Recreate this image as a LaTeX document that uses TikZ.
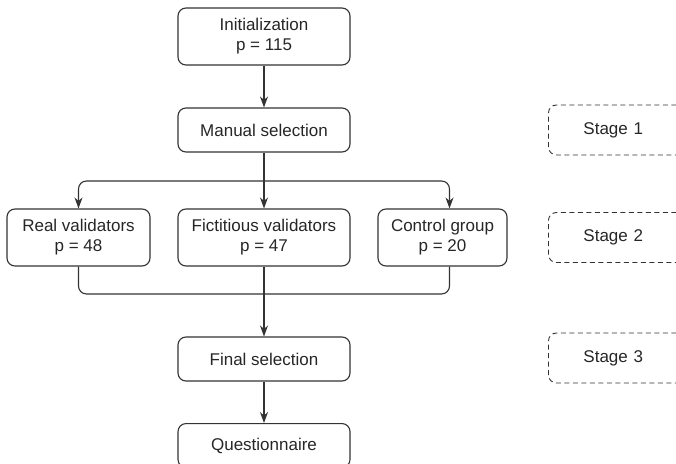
\documentclass[tikz,border=0pt]{standalone}
\usepackage{fontspec}
\setmainfont{Liberation Sans}
\usetikzlibrary{arrows.meta,positioning}

\begin{document}
\begin{tikzpicture}[x=1pt, y=-1pt, >={Stealth[length=11pt,width=8pt]},
    line width=1.1pt,
    every node/.style={font=\fontsize{17}{20}\selectfont, text=black!85},
    box/.style={draw=black!80, rounded corners=8pt, align=center, inner sep=0pt},
    stagebox/.style={draw=black!80, dashed, dash pattern=on 5pt off 3.5pt,
      line width=0.9pt, rounded corners=8pt, align=left, text width=100pt,
      inner xsep=35pt, minimum height=50pt, anchor=west}]
  \clip (0,0) rectangle (676,463);

  % main column
  \node[box, minimum width=172pt, minimum height=57pt] (init) at (264,36.5) {Initialization\\p = 115};
  \node[box, minimum width=172pt, minimum height=44pt] (manual) at (264,130) {Manual selection};

  % three groups
  \node[box, minimum width=143pt, minimum height=57pt] (real) at (78.5,237.5) {Real validators\\p = 48};
  \node[box, minimum width=172pt, minimum height=57pt] (fict) at (264,237.5) {Fictitious validators\\p = 47};
  \node[box, minimum width=129pt, minimum height=57pt] (ctrl) at (442.5,237.5) {Control group\\p = 20};

  \node[box, minimum width=172pt, minimum height=44pt] (final) at (264,359) {Final selection};
  \node[box, minimum width=172pt, minimum height=44pt, anchor=north] (quest) at (264,423) {Questionnaire};

  % stages on the right
  \node[stagebox] (stage1) at (548,130) {Stage 1};
  \node[stagebox] (stage2) at (548,237.5) {Stage 2};
  \node[stagebox] (stage3) at (548,358) {Stage 3};

  % connectors
  \coordinate (split) at (264,181);
  \coordinate (merge) at (264,294);
  \draw[black!80,->] (init) -- (manual);
  \draw[black!80,->] (manual) -- (fict);
  \draw[black!80,->,rounded corners=8pt] (split) -| (real.north);
  \draw[black!80,->,rounded corners=8pt] (split) -| ([xshift=7pt]ctrl.north);
  \draw[black!80,rounded corners=8pt] (real.south) |- (merge) -| ([xshift=7pt]ctrl.south);
  \draw[black!80,->] (fict) -- (final);
  \draw[black!80,->] (final) -- (quest);
\end{tikzpicture}
\end{document}
